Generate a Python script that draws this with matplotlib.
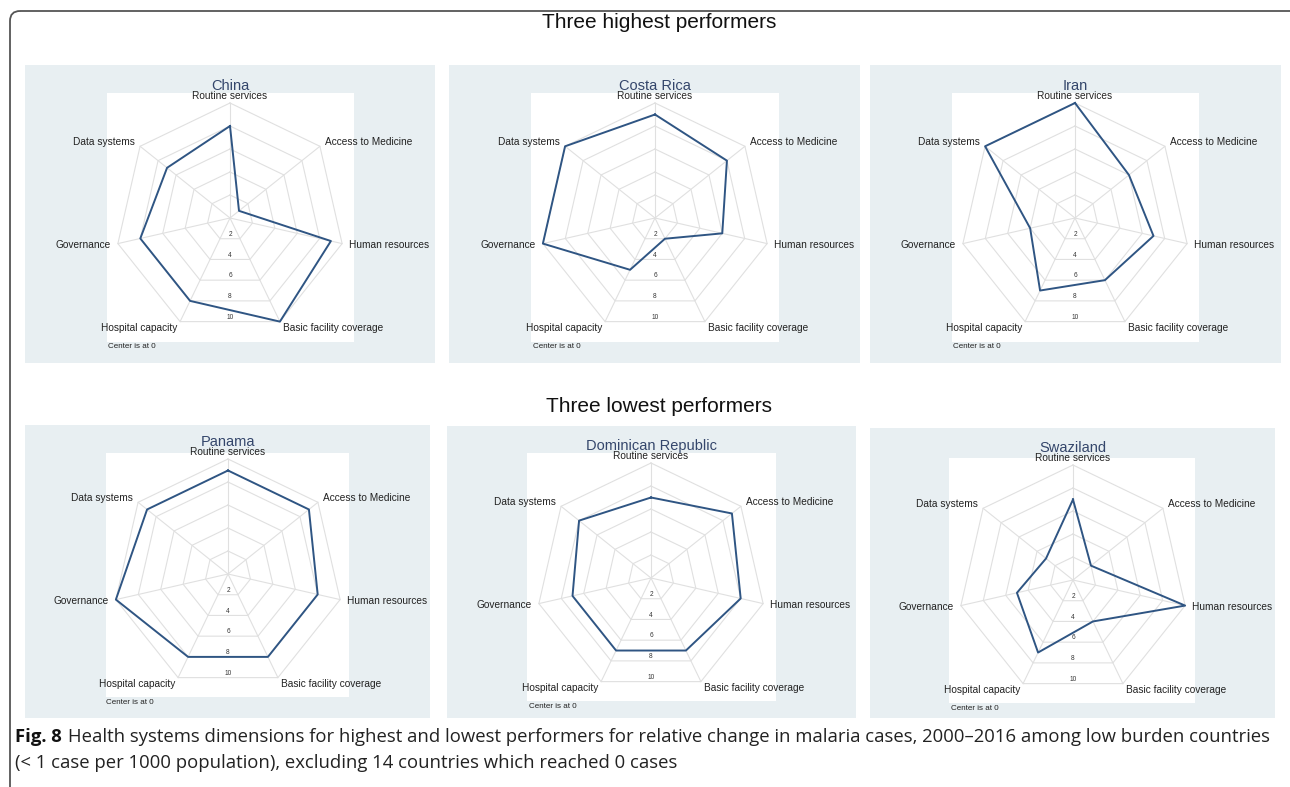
import matplotlib
matplotlib.use('Agg')
import matplotlib.pyplot as plt
import matplotlib.patches as patches
import numpy as np

# Chart data
dimensions = ['Routine services', 'Access to Medicine', 'Human resources',
              'Basic facility coverage', 'Hospital capacity', 'Governance',
              'Data systems']
ringValues = [2, 4, 6, 8, 10]

topCountries = ['China', 'Costa Rica', 'Iran']
bottomCountries = ['Panama', 'Dominican Republic', 'Swaziland']

china = [8, 1, 9, 10, 8, 8, 7]
costaRica = [9, 8, 6, 2, 5, 10, 10]
iran = [10, 6, 7, 6, 7, 4, 10]
panama = [9, 9, 8, 8, 8, 10, 9]
dominicanRepublic = [7, 9, 8, 7, 7, 7, 8]
swaziland = [7, 2, 10, 4, 7, 5, 3]

scores = [china, costaRica, iran, panama, dominicanRepublic, swaziland]
countries = topCountries + bottomCountries

sectionTitles = ['Three highest performers', 'Three lowest performers']
captionBold = 'Fig. 8'
captionLine1 = ('Health systems dimensions for highest and lowest performers for '
                'relative change in malaria cases, 2000\u20132016 among low burden countries')
captionLine2 = '(< 1 case per 1000 population), excluding 14 countries which reached 0 cases'

# Layout (pixels from top-left)
W, H = 1290, 787
panelBoxes = [(25, 65, 435, 363), (449, 65, 860, 363), (870, 65, 1281, 363),
              (25, 425, 430, 718), (447, 426, 856, 718), (870, 428, 1275, 718)]
plotBoxes = [(107, 93, 354, 342), (531, 93, 779, 342), (952, 93, 1199, 342),
             (106, 453, 349, 697), (527, 453, 776, 701), (949, 458, 1195, 703)]
centers = [(230, 218), (655, 218), (1075, 218),
           (228, 574), (651, 578), (1073, 580)]
radius = 115  # pixels for a value of 10
extent = 13.0  # half-width of each radar axes, in value units

bgColor = '#e8eff2'
gridColor = '#e0e0e0'
lineColor = '#2f5583'
titleColor = '#34466b'

plt.rcParams['font.family'] = 'Liberation Sans'

fig = plt.figure(figsize=(W / 100, H / 100), dpi=100)

# Base axes in pixel coordinates for frame, panels and captions
base = fig.add_axes([0, 0, 1, 1])
base.set_xlim(0, W)
base.set_ylim(H, 0)
base.axis('off')

frame = patches.FancyBboxPatch((10, 11), 1400, 900,
                               boxstyle='round,pad=0,rounding_size=10',
                               fill=False, ec='#555555', lw=1.3)
base.add_patch(frame)

for (x0, y0, x1, y1) in panelBoxes:
    base.add_patch(patches.Rectangle((x0, y0), x1 - x0, y1 - y0,
                                     fc=bgColor, ec='none'))
for (x0, y0, x1, y1) in plotBoxes:
    base.add_patch(patches.Rectangle((x0, y0), x1 - x0, y1 - y0,
                                     fc='white', ec='none'))

base.text(659, 22, sectionTitles[0], ha='center', va='center',
          fontsize=15, color='#111111')
base.text(659, 407, sectionTitles[1], ha='center', va='center',
          fontsize=15, color='#111111')

# Radar geometry
n = len(dimensions)
theta = 2 * np.pi * np.arange(n) / n
ux = np.sin(theta)
uy = np.cos(theta)
halign = ['center', 'left', 'left', 'left', 'right', 'right', 'right']

for country, vals, (cx, cy) in zip(countries, scores, centers):
    S = extent * radius / 10.0
    ax = fig.add_axes([(cx - S) / W, 1 - (cy + S) / H, 2 * S / W, 2 * S / H])
    ax.set_xlim(-extent, extent)
    ax.set_ylim(-extent, extent)
    ax.axis('off')
    ax.patch.set_alpha(0)

    # Grid rings and spokes
    for r in ringValues:
        ax.plot(np.append(r * ux, r * ux[0]), np.append(r * uy, r * uy[0]),
                color=gridColor, lw=0.8, zorder=1)
    top = max(ringValues)
    for k in range(n):
        ax.plot([0, top * ux[k]], [0, top * uy[k]], color=gridColor, lw=0.8,
                zorder=1)

    # Ring labels along the bottom
    for r in ringValues:
        ax.text(0, -r * np.cos(np.pi / n) + 0.08, str(r), ha='center',
                va='bottom', fontsize=4.7, color='#333333')

    # Country values
    v = np.array(vals, dtype=float)
    ax.plot(np.append(v * ux, v[0] * ux[0]), np.append(v * uy, v[0] * uy[0]),
            color=lineColor, lw=1.4, zorder=3)

    # Axis labels
    for k, name in enumerate(dimensions):
        ax.text(10.6 * ux[k], 10.6 * uy[k], name, ha=halign[k], va='center',
                fontsize=7.3, color='#222222')

    ax.text(0, 11.5, country, ha='center', va='center', fontsize=10.5,
            color=titleColor)
    ax.text(-10.6, -11.2, 'Center is at 0', ha='left', va='center',
            fontsize=5.8, color='#222222')

# Caption, scaled so the first line spans the frame width
capFont = ['Liberation Sans Narrow', 'Open Sans']
fs = 12.0
renderer = fig.canvas.get_renderer()
tb = base.text(15, 737, captionBold, ha='left', va='center', fontsize=fs,
               fontweight='bold', family=capFont, color='#111111')
t1 = base.text(0, 737, captionLine1, ha='left', va='center', fontsize=fs,
               family=capFont, color='#222222')
wb = tb.get_window_extent(renderer).width
w1 = t1.get_window_extent(renderer).width
gap = 0.45 * fs
scale = (1263 - 15) / (wb + gap + w1)
fs = fs * scale
tb.set_fontsize(fs)
t1.set_fontsize(fs)
wb = tb.get_window_extent(renderer).width
t1.set_x(15 + wb + 0.45 * fs)
base.text(15, 763, captionLine2, ha='left', va='center', fontsize=fs,
          family=capFont, color='#222222')

fig.savefig('out.png', dpi=100)
